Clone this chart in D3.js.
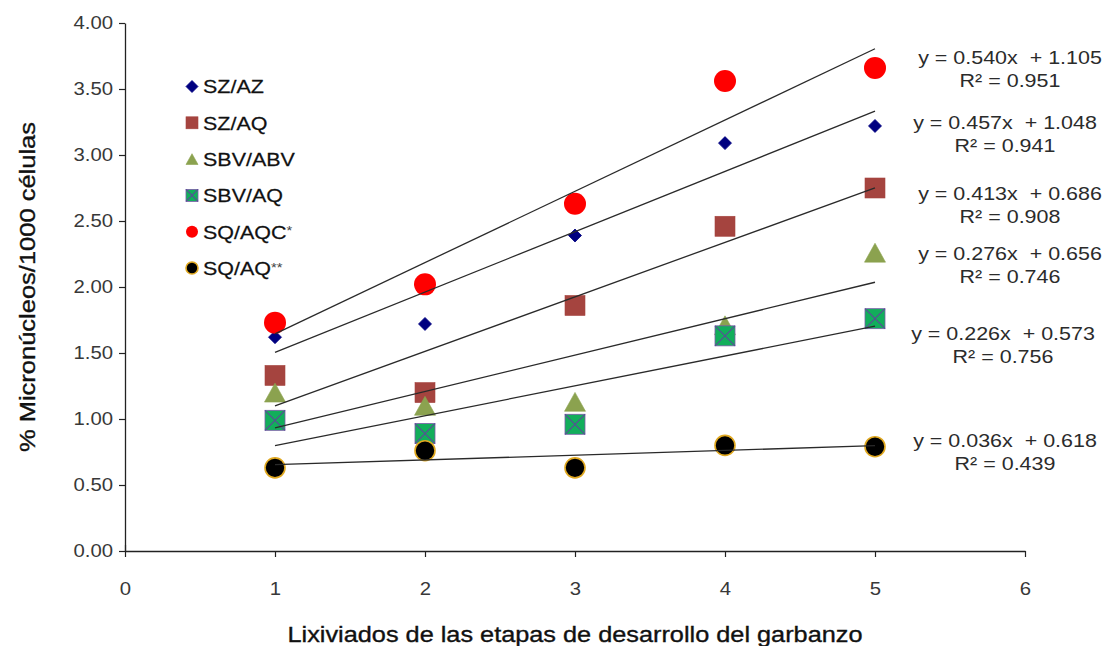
<!DOCTYPE html>
<html>
<head>
<meta charset="utf-8">
<script src="https://cdn.jsdelivr.net/npm/d3@7"></script>
<style>
  html, body { margin: 0; padding: 0; background: #fff; }
  svg text { font-family: "Liberation Sans", Arial, sans-serif; }
</style>
</head>
<body>
<svg id="chart" width="1105" height="646"></svg>
<script>
// Development stages of the chickpea leachates (x) and micronuclei per 1000 cells (y)
const stages = [1, 2, 3, 4, 5];
const seriesNames = ["SZ/AZ", "SZ/AQ", "SBV/ABV", "SBV/AQ", "SQ/AQC*", "SQ/AQ**"];
const szAz   = [1.62, 1.72, 2.39, 3.09, 3.22];
const szAq   = [1.33, 1.20, 1.86, 2.46, 2.75];
const sbvAbv = [1.20, 1.10, 1.13, 1.71, 2.26];
const sbvAq  = [0.99, 0.89, 0.96, 1.63, 1.76];
const sqAqc  = [1.73, 2.02, 2.63, 3.56, 3.66];
const sqAq   = [0.63, 0.76, 0.63, 0.80, 0.79];

// Linear trend lines (slope, intercept, R²) per series, same order as seriesNames
const slopes     = [0.457, 0.413, 0.276, 0.226, 0.540, 0.036];
const intercepts = [1.048, 0.686, 0.656, 0.573, 1.105, 0.618];
const r2Values   = [0.941, 0.908, 0.746, 0.756, 0.951, 0.439];

const xTicks = [0, 1, 2, 3, 4, 5, 6];
const yTicks = [0, 0.5, 1, 1.5, 2, 2.5, 3, 3.5, 4];

const seriesValues = [szAz, szAq, sbvAbv, sbvAq, sqAqc, sqAq];

// Marker styling per series
const markerStyle = [
  { shape: "diamond",  fill: "#000080", stroke: "#000080", size: 13 },
  { shape: "square",   fill: "#A5443F", stroke: "#A5443F", size: 20 },
  { shape: "triangle", fill: "#8BA24F", stroke: "#8BA24F", size: 21 },
  { shape: "xsquare",  fill: "#12AE5B", stroke: "#7A5AA8", size: 20 },
  { shape: "circle",   fill: "#FF0000", stroke: "#FF0000", size: 22 },
  { shape: "circle",   fill: "#000000", stroke: "#E0A820", size: 20 }
];

// Placement of the equation labels (centre x, first-line y)
const eqLabelPos = [
  { x: 1005, y: 122 },
  { x: 1010, y: 193 },
  { x: 1010, y: 253 },
  { x: 1003, y: 333 },
  { x: 1010, y: 57 },
  { x: 1005, y: 440 }
];

const svg = d3.select("#chart");
const W = 1105, H = 646;
const margin = { left: 125, right: 80, top: 23, bottom: 95 };

const x = d3.scaleLinear().domain([0, 6]).range([margin.left, W - margin.right]);
const y = d3.scaleLinear().domain([0, 4]).range([H - margin.bottom, margin.top]);

const textStretch = 1.13;

// Axes
const yAxis = svg.append("g")
  .attr("transform", `translate(${x(0)},0)`)
  .call(d3.axisLeft(y).tickValues(yTicks).tickFormat(d3.format(".2f")).tickSize(6).tickPadding(6).tickSizeOuter(0));
const xAxis = svg.append("g")
  .attr("transform", `translate(0,${y(0)})`)
  .call(d3.axisBottom(x).tickValues(xTicks).tickFormat(d3.format("d")).tickSize(6).tickPadding(25).tickSizeOuter(0));

[yAxis, xAxis].forEach(g => {
  g.select(".domain").attr("stroke", "#222").attr("stroke-width", 1.3);
  g.selectAll(".tick line").attr("stroke", "#222").attr("stroke-width", 1.2);
  g.selectAll(".tick text")
    .attr("fill", "#383838")
    .style("font-size", "18px")
    .style("font-family", "'Liberation Sans', Arial, sans-serif");
});
// widen tick glyphs slightly around their anchor
yAxis.selectAll(".tick text").each(function () {
  const t = d3.select(this);
  const tx = +t.attr("x");
  t.attr("transform", `translate(${tx},0) scale(${textStretch},1) translate(${-tx},0)`);
});
xAxis.selectAll(".tick text").attr("transform", `scale(${textStretch},1)`);
xAxis.selectAll(".tick line").filter(d => d === 0).attr("y1", -6);

// Axis titles (tall, condensed lettering)
svg.append("text")
  .attr("transform", `translate(27,${(y(0) + y(4)) / 2}) rotate(-90)`)
  .attr("text-anchor", "middle")
  .attr("dy", "0.35em")
  .attr("fill", "#111")
  .attr("stroke", "#111").attr("stroke-width", 0.35)
  .style("font-size", "22px")
  .attr("textLength", 330)
  .attr("lengthAdjust", "spacingAndGlyphs")
  .text("% Micronúcleos/1000 células");

svg.append("text")
  .attr("x", x(3))
  .attr("y", 642)
  .attr("text-anchor", "middle")
  .attr("fill", "#111")
  .attr("stroke", "#111").attr("stroke-width", 0.35)
  .style("font-size", "22px")
  .attr("textLength", 575)
  .attr("lengthAdjust", "spacingAndGlyphs")
  .text("Lixiviados de las etapas de desarrollo del garbanzo");

// Marker drawing helper
function drawMarker(g, st, cx, cy, size) {
  const h = size / 2;
  if (st.shape === "diamond") {
    g.append("path")
      .attr("d", `M${cx},${cy - h}L${cx + h},${cy}L${cx},${cy + h}L${cx - h},${cy}Z`)
      .attr("fill", st.fill).attr("stroke", st.stroke).attr("stroke-width", 0.8);
  } else if (st.shape === "square") {
    g.append("rect")
      .attr("x", cx - h).attr("y", cy - h).attr("width", size).attr("height", size)
      .attr("fill", st.fill).attr("stroke", st.stroke).attr("stroke-width", 0.6);
  } else if (st.shape === "triangle") {
    g.append("path")
      .attr("d", `M${cx},${cy - h * 0.9}L${cx + h},${cy + h * 0.9}L${cx - h},${cy + h * 0.9}Z`)
      .attr("fill", st.fill).attr("stroke", st.stroke).attr("stroke-width", 0.6);
  } else if (st.shape === "xsquare") {
    g.append("rect")
      .attr("x", cx - h).attr("y", cy - h).attr("width", size).attr("height", size)
      .attr("fill", st.fill).attr("stroke", st.stroke).attr("stroke-width", 0.8);
    g.append("path")
      .attr("d", `M${cx - h},${cy - h}L${cx + h},${cy + h}M${cx + h},${cy - h}L${cx - h},${cy + h}`)
      .attr("stroke", "#5A4C98").attr("stroke-width", 1.1).attr("fill", "none");
  } else if (st.shape === "circle") {
    g.append("circle")
      .attr("cx", cx).attr("cy", cy).attr("r", h)
      .attr("fill", st.fill)
      .attr("stroke", st.stroke).attr("stroke-width", st.stroke === st.fill ? 0 : 1.6);
  }
}

// Data points (drawn first so trend lines sit on top)
const pts = svg.append("g");
seriesValues.forEach((vals, i) => {
  const g = pts.append("g");
  vals.forEach((v, j) => drawMarker(g, markerStyle[i], x(stages[j]), y(v), markerStyle[i].size));
});

// Trend lines from x=1 to x=5
const line = d3.line().x(d => x(d[0])).y(d => y(d[1]));
const lines = svg.append("g");
slopes.forEach((m, i) => {
  const x0 = d3.min(stages), x1 = d3.max(stages);
  lines.append("path")
    .attr("d", line([[x0, m * x0 + intercepts[i]], [x1, m * x1 + intercepts[i]]]))
    .attr("stroke", "#2a2a2a").attr("stroke-width", 1.3).attr("fill", "none");
});

// Equation labels
const fmt3 = d3.format(".3f");
const eq = svg.append("g").attr("fill", "#2b2b2b").style("font-size", "19px");
slopes.forEach((m, i) => {
  const p = eqLabelPos[i];
  eq.append("text")
    .attr("transform", `translate(${p.x},${p.y}) scale(${textStretch},1)`)
    .attr("text-anchor", "middle").attr("dy", "0.35em")
    .style("white-space", "pre")
    .text(`y = ${fmt3(m)}x  + ${fmt3(intercepts[i])}`);
  eq.append("text")
    .attr("transform", `translate(${p.x},${p.y + 23.5}) scale(${textStretch},1)`)
    .attr("text-anchor", "middle").attr("dy", "0.35em")
    .text(`R² = ${fmt3(r2Values[i])}`);
});

// Legend
const legend = svg.append("g");
seriesNames.forEach((name, i) => {
  const ly = 86.5 + i * 36.3;
  const st = markerStyle[i];
  const g = legend.append("g");
  drawMarker(g, st, 192, ly, 12);
  const t = legend.append("text")
    .attr("transform", `translate(203,${ly}) scale(${textStretch},1)`)
    .attr("dy", "0.36em")
    .attr("fill", "#111")
    .attr("stroke", "#111").attr("stroke-width", 0.25)
    .style("font-size", "19px");
  const base = name.replace(/\*+$/, "");
  const stars = name.slice(base.length);
  t.append("tspan").text(base);
  if (stars) t.append("tspan").attr("dy", "-0.25em").style("font-size", "13px").attr("fill", "#444").attr("stroke", "none").text(stars);
});
</script>
</body>
</html>
